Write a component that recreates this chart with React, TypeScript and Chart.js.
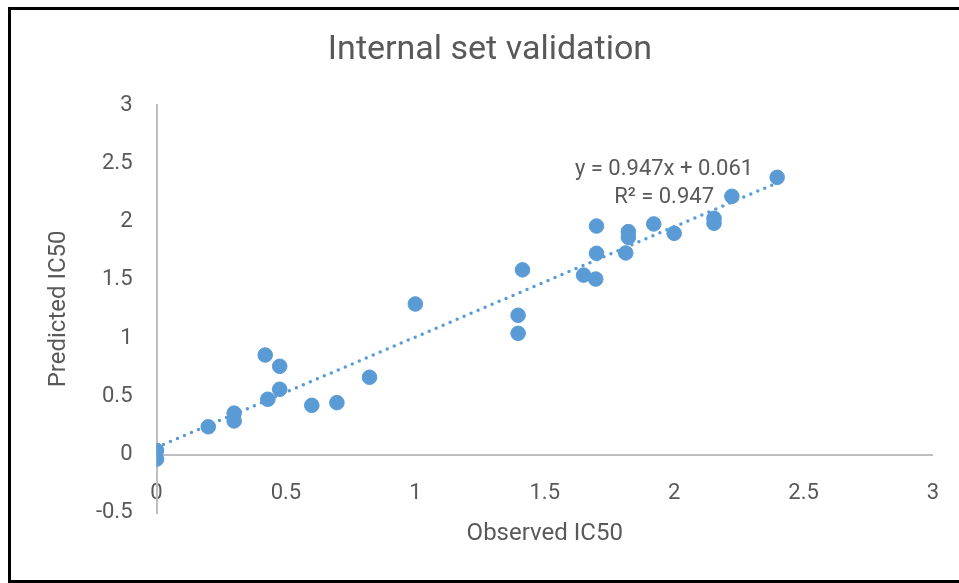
import { useEffect, useRef } from "react";
import { Chart, registerables } from "chart.js";

Chart.register(...registerables);

// ---- data ----
const chartTitle = "Internal set validation";
const xAxisTitle = "Observed IC50";
const yAxisTitle = "Predicted IC50";

const observedIC50 = [
  0, 0, 0.2, 0.3, 0.3, 0.42, 0.476, 0.476, 0.43, 0.6, 0.697, 0.823, 1.0,
  1.397, 1.397, 1.414, 1.65, 1.697, 1.7, 1.823, 1.823, 1.7, 1.813, 1.921,
  2.0, 2.154, 2.154, 2.223, 2.398,
];
const predictedIC50 = [
  0.035, -0.04, 0.238, 0.355, 0.288, 0.854, 0.757, 0.56, 0.474, 0.422, 0.445,
  0.663, 1.292, 1.195, 1.04, 1.585, 1.54, 1.506, 1.961, 1.913, 1.864, 1.727,
  1.73, 1.979, 1.899, 2.027, 1.985, 2.216, 2.379,
];

const xTickValues = [0, 0.5, 1, 1.5, 2, 2.5, 3];
const yTickValues = [-0.5, 0, 0.5, 1, 1.5, 2, 2.5, 3];
const xTickLabels = ["0", "0.5", "1", "1.5", "2", "2.5", "3"];
const yTickLabels = ["-0.5", "0", "0.5", "1", "1.5", "2", "2.5", "3"];

// linear trendline as displayed on the chart
const trendSlope = 0.947;
const trendIntercept = 0.061;
const trendXRange = [0, 2.398];
const trendLabelLines = ["y = 0.947x + 0.061", "R\u00B2 = 0.947"];

const TEXT = "#595959";
const BLUE = "#5B9BD5";
const AXIS = "#BFBFBF";

export default function App() {
  const ref = useRef<HTMLCanvasElement | null>(null);

  useEffect(() => {
    const canvas = ref.current;
    if (!canvas) return;

    const points = observedIC50.map((x, i) => ({ x, y: predictedIC50[i] }));
    const trend = trendXRange.map((x) => ({ x, y: trendSlope * x + trendIntercept }));

    const trendLabelPlugin = {
      id: "trendLabel",
      afterDatasetsDraw(chart: any) {
        const { ctx, scales } = chart;
        const px = scales.x.getPixelForValue(1.961);
        const py = scales.y.getPixelForValue(2.446);
        ctx.save();
        ctx.font = "22px Roboto";
        ctx.fillStyle = TEXT;
        ctx.textAlign = "center";
        ctx.textBaseline = "middle";
        trendLabelLines.forEach((t, i) => ctx.fillText(t, px, py + i * 28.3));
        ctx.restore();
      },
    };

    const chart = new Chart(canvas, {
      type: "scatter",
      data: {
        datasets: [
          {
            type: "line",
            data: trend,
            borderColor: BLUE,
            borderWidth: 3.5,
            borderDash: [0, 7.6],
            borderCapStyle: "round",
            pointRadius: 0,
            pointHoverRadius: 0,
            fill: false,
          } as any,
          {
            data: points,
            backgroundColor: BLUE,
            borderColor: BLUE,
            borderWidth: 1,
            pointRadius: 7.3,
            pointHoverRadius: 7.3,
          },
        ],
      },
      options: {
        animation: false,
        responsive: false,
        events: [],
        layout: { padding: { left: 37, right: 26, top: 0, bottom: 0 } },
        plugins: {
          legend: { display: false },
          tooltip: { enabled: false },
          title: {
            display: true,
            text: chartTitle,
            color: TEXT,
            font: { family: "Roboto", size: 34, weight: "normal", lineHeight: 1.2 },
            padding: { top: 20.1, bottom: 34.1 },
          },
        },
        scales: {
          x: {
            type: "linear",
            min: 0,
            max: 3,
            afterBuildTicks: (s: any) => {
              s.ticks = xTickValues.map((v) => ({ value: v }));
            },
            afterFit: (s: any) => {
              s.height = 68.25;
            },
            grid: { display: false, drawTicks: false },
            border: { display: false },
            ticks: {
              color: TEXT,
              font: { family: "Roboto", size: 22 },
              padding: 6,
              mirror: true,
              maxRotation: 0,
              autoSkip: false,
              callback: (_v: any, i: number) => xTickLabels[i],
            },
            title: {
              display: true,
              text: xAxisTitle,
              color: TEXT,
              font: { family: "Roboto", size: 24, weight: "normal", lineHeight: 1.2 },
              padding: { top: 0, bottom: 32.6 },
            },
          },
          y: {
            type: "linear",
            min: -0.5,
            max: 3,
            afterBuildTicks: (s: any) => {
              s.ticks = yTickValues.map((v) => ({ value: v }));
            },
            afterFit: (s: any) => {
              s.width = 109.5;
            },
            grid: {
              color: (c: any) => (c.tick && c.tick.value === 0 ? AXIS : "rgba(0,0,0,0)"),
              lineWidth: 2,
              drawTicks: false,
            },
            border: { display: true, color: AXIS, width: 2 },
            ticks: {
              color: TEXT,
              font: { family: "Roboto", size: 22 },
              padding: 24,
              autoSkip: false,
              callback: (_v: any, i: number) => yTickLabels[i],
            },
            title: {
              display: true,
              text: yAxisTitle,
              color: TEXT,
              font: { family: "Roboto", size: 24, weight: "normal", lineHeight: 1.2 },
              padding: { top: -2.3, bottom: 0 },
            },
          },
        },
      },
      plugins: [trendLabelPlugin],
    } as any);

    return () => chart.destroy();
  }, []);

  return (
    <>
      <canvas
        ref={ref}
        width={949}
        height={571}
        style={{ position: "fixed", left: 10, top: 10, width: 949, height: 571 }}
      />
      <div
        style={{
          position: "fixed",
          left: 8,
          top: 7,
          width: 1000,
          height: 570,
          border: "3px solid #000",
          pointerEvents: "none",
        }}
      />
    </>
  );
}
